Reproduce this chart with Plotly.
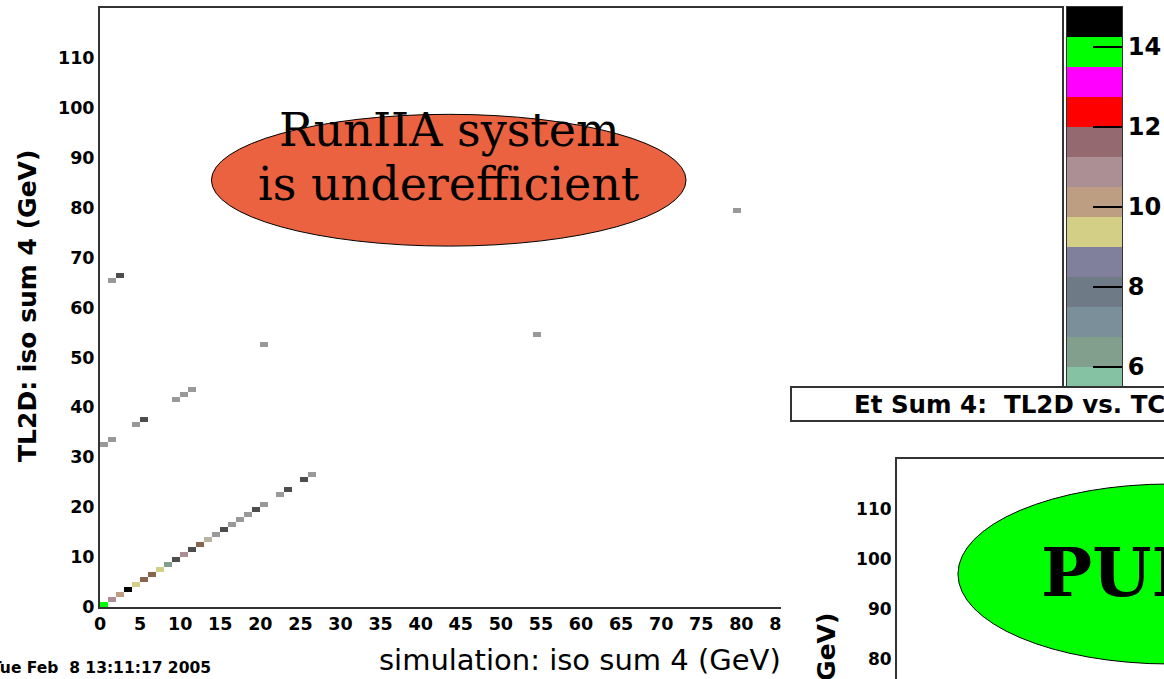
import numpy as np
import plotly.graph_objects as go

W, H = 1164, 679

# ---------------- data ----------------
# cells on the diagonal (simulation bin == TL2D bin), 1 GeV bins
diag_bins = [0, 1, 2, 3, 4, 5, 6, 7, 8, 9, 10, 11, 12, 13, 14, 15, 16, 17, 18, 19, 20,
             22, 23, 25, 26, 54, 79]
diag_counts = [14, 11, 10, 15, 9, 5, 5, 9, 6, 2, 11, 2, 5, 3, 1, 2, 1, 1, 1, 2, 1,
               1, 2, 2, 1, 1, 1]
# off-diagonal cells
off_x = [0, 1, 4, 5, 9, 10, 11, 20, 1, 2]
off_y = [32, 33, 36, 37, 41, 42, 43, 52, 65, 66]
off_counts = [1, 1, 1, 2, 1, 1, 1, 1, 1, 2]

# ROOT contour palette (20 levels, bottom -> top)
level_colors = ['#cccccc', '#999999', '#4d4d4d', '#ccc7ab', '#bab5a3', '#a39687',
                '#87664f', '#85c2a3', '#829e8c', '#7a8f99', '#6e7a85', '#80809c',
                '#d4cf87', '#bd9e82', '#ab8f94', '#946970', '#ff0000', '#ff00ff',
                '#00ff00', '#000000']
z_min, z_max = 0, 15
n_bins = 120

x_ticks = list(range(0, 121, 5))
y_ticks = list(range(0, 111, 10))
cbar_ticks = list(range(0, 15, 2))
inset_y_ticks = [80, 90, 100, 110]

# ---------------- build ----------------
n = len(level_colors)
colorscale = []
for k, c in enumerate(level_colors):
    lo = 0.0 if k == 0 else k / n - 1e-6
    hi = 1.0 if k == n - 1 else (k + 1) / n - 1e-6
    colorscale += [[lo, c], [hi, c]]

z = np.full((n_bins, n_bins), np.nan)
for b, c in zip(diag_bins, diag_counts):
    z[b, b] = c
for xi, yi, c in zip(off_x, off_y, off_counts):
    z[yi, xi] = c
centers = np.arange(n_bins) + 0.5

step = (z_max - z_min) / n
lvl_centers = [z_min + (k + 0.5) * step for k in range(n)]

SANS = "DejaVu Sans"
SERIF = "DejaVu Serif"
FRAME = "#333333"


def px(x):
    return x / W


def py(y):
    return (H - y) / H


fig = go.Figure()
fig.add_trace(go.Heatmap(z=z, x=centers, y=centers, colorscale=colorscale,
                         zmin=z_min, zmax=z_max, showscale=False,
                         hoverongaps=False, xaxis='x', yaxis='y'))
fig.add_trace(go.Heatmap(z=[[v] for v in lvl_centers], x=[0], y=lvl_centers,
                         colorscale=colorscale, zmin=z_min, zmax=z_max,
                         showscale=False, xaxis='x2', yaxis='y2'))
fig.add_trace(go.Scatter(x=[], y=[], xaxis='x3', yaxis='y3', showlegend=False))
fig.add_trace(go.Scatter(x=[], y=[], xaxis='x4', yaxis='y4', showlegend=False))

tick_font = dict(family=SANS, size=17.5, color='black', weight='bold')

fig.update_layout(
    width=W, height=H,
    margin=dict(l=0, r=0, t=0, b=0, pad=0, autoexpand=False),
    paper_bgcolor='white', plot_bgcolor='white', showlegend=False,
    xaxis=dict(domain=[px(100), px(1062)], anchor='y', range=[0, 120],
               tickmode='array', tickvals=x_ticks, ticks='', tickangle=0,
               tickfont=tick_font,
               showline=True, mirror=True, linecolor=FRAME, linewidth=2,
               showgrid=False, zeroline=False),
    yaxis=dict(domain=[py(607), py(8)], anchor='x', range=[0, 120],
               tickmode='array', tickvals=y_ticks, ticks='', tickangle=0,
               tickfont=tick_font,
               showline=True, mirror=True, linecolor=FRAME, linewidth=2,
               showgrid=False, zeroline=False),
    xaxis2=dict(domain=[px(1067), px(1122)], anchor='y2', range=[-0.5, 0.5],
                showticklabels=False, ticks='', showline=True, mirror=True,
                linecolor=FRAME, linewidth=1, showgrid=False, zeroline=False),
    yaxis2=dict(domain=[py(607), py(7)], anchor='x2', side='right',
                range=[z_min, z_max],
                tickmode='array', tickvals=cbar_ticks, ticks='inside', ticklen=29,
                tickwidth=1.5, tickcolor='black',
                tickfont=dict(family=SANS, size=24, color='black', weight='bold'),
                showline=True, mirror=True, linecolor=FRAME, linewidth=1,
                showgrid=False, zeroline=False),
    xaxis3=dict(domain=[px(781), 1], anchor='y3', visible=False),
    yaxis3=dict(domain=[0, py(386)], anchor='x3', visible=False),
    xaxis4=dict(domain=[px(897), 1], anchor='y4', range=[0, 33.3], side='top',
                showticklabels=False, ticks='', showline=True, linecolor=FRAME,
                linewidth=2, showgrid=False, zeroline=False),
    yaxis4=dict(domain=[0, py(459)], anchor='x4', range=[76, 120],
                tickmode='array', tickvals=inset_y_ticks, ticks='',
                tickfont=dict(family=SANS, size=17, color='black', weight='bold'),
                showline=True, linecolor=FRAME, linewidth=2,
                showgrid=False, zeroline=False),
)

shapes = [
    dict(type='circle', xref='x', yref='y', x0=13.9, x1=73.1, y0=72.3, y1=98.7,
         fillcolor='#ea6240', line=dict(color='black', width=1), layer='above'),
    dict(type='circle', xref='x4', yref='y4', x0=7.6, x1=60.5, y0=79, y1=115,
         fillcolor='#00ff00', line=dict(color='black', width=1), layer='above'),
    dict(type='rect', xref='paper', yref='paper', x0=px(791), x1=1.02,
         y0=py(421), y1=py(387), fillcolor='white',
         line=dict(color=FRAME, width=2), layer='above'),
]
fig.update_layout(shapes=shapes)

bold = dict(family=SANS, color='black', weight='bold')
annotations = [
    dict(text="RunIIA system", xref='paper', yref='paper', x=px(449), y=py(130),
         showarrow=False, font=dict(family=SERIF, size=46, color='black'),
         xanchor='center', yanchor='middle'),
    dict(text="is underefficient", xref='paper', yref='paper', x=px(449), y=py(184),
         showarrow=False, font=dict(family=SERIF, size=46, color='black'),
         xanchor='center', yanchor='middle'),
    dict(text="PURE", xref='paper', yref='paper', x=px(1039), y=py(572),
         showarrow=False,
         font=dict(family=SERIF, size=68, color='black', weight='bold'),
         xanchor='left', yanchor='middle'),
    dict(text="Et Sum 4:\u00a0 TL2D vs. TCC", xref='paper', yref='paper',
         x=px(852), y=py(404), showarrow=False, xanchor='left', yanchor='middle',
         font=dict(size=24.5, **bold)),
    dict(text="TL2D: iso sum 4 (GeV)", xref='paper', yref='paper', x=px(28),
         y=py(306), textangle=-90, showarrow=False, xanchor='center',
         yanchor='middle', font=dict(size=25, **bold)),
    dict(text="TL2D: iso sum 4 (GeV)", xref='paper', yref='paper', x=px(826),
         y=py(611), textangle=-90, showarrow=False, xanchor='center',
         yanchor='top', font=dict(size=25, **bold)),
    dict(text="simulation: iso sum 4 (GeV)", xref='paper', yref='paper', x=px(377),
         y=py(660), showarrow=False, xanchor='left', yanchor='middle',
         font=dict(family=SANS, size=29, color='black')),
    dict(text="Tue Feb\u00a0 8 13:11:17 2005", xref='paper', yref='paper', x=px(213),
         y=py(668), showarrow=False, xanchor='right', yanchor='middle',
         font=dict(size=15.5, **bold)),
]
fig.update_layout(annotations=annotations)

fig.write_html("out.html", config={'displayModeBar': False},
               post_script="document.body.style.margin='0';"
                           "document.body.style.overflow='hidden';")
